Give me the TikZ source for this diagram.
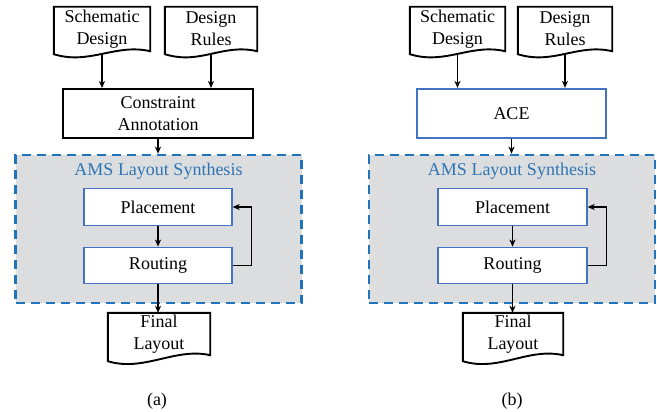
\documentclass[tikz,border=0pt]{standalone}
\usepackage{fontspec}
\setmainfont{Liberation Serif}
\usetikzlibrary{calc,arrows.meta}

\definecolor{synthfill}{HTML}{DCDDDF}
\definecolor{synthedge}{HTML}{1F74BC}
\definecolor{synthtext}{HTML}{2E75B6}
\definecolor{stageedge}{HTML}{4472C4}

\tikzset{
  every node/.style={font=\fontsize{18}{22}\selectfont, inner sep=0pt},
  docbox/.style={rectangle, align=center, minimum height=44pt},
  docline/.style={draw=black, line width=1.9pt, line join=miter},
  plainbox/.style={rectangle, draw=black, line width=1.9pt, align=center,
                   minimum width=190pt, minimum height=49pt},
  acebox/.style={rectangle, draw=stageedge, line width=2.2pt, fill=white,
                 minimum width=189pt, minimum height=49pt},
  synthbox/.style={rectangle, draw=synthedge, fill=synthfill, line width=2.6pt,
                   dash pattern=on 9pt off 6pt,
                   minimum width=286pt, minimum height=148pt},
  synthtitle/.style={text=synthtext},
  stagebox/.style={rectangle, draw=stageedge, fill=white, line width=1.3pt,
                   minimum width=148pt, minimum height=36.5pt},
  arr/.style={draw=black, line width=1.3pt,
              -{Stealth[length=7pt,width=6pt,inset=2pt]}},
  fback/.style={draw=black, line width=1.3pt,
              -{Stealth[length=7pt,width=6pt,inset=2pt]}},
}

% document symbol: outline of node #1 with a wavy lower edge,
% the left end of the wave dropped by #2
\newcommand{\docoutline}[2]{%
  \draw[docline] ($(#1.south west)+(0,#2)$) -- (#1.north west) -- (#1.north east)
    -- (#1.south east)
    .. controls ($(#1.south east)+(-35,-8)$) and ($(#1.south west)+(36,#2+11)$)
    .. ($(#1.south west)+(0,#2)$) -- cycle;}

\begin{document}
\begin{tikzpicture}[x=1pt,y=-1pt]
  \useasboundingbox (0,0) rectangle (657,412);

  % ---------------- (a) ----------------
  \node[docbox, minimum width=96pt] (sdA) at (102,29) {Schematic\\Design};
  \docoutline{sdA}{3}
  \node[docbox, minimum width=92pt] (drA) at (211,29) {Design\\Rules};
  \docoutline{drA}{3}

  \node[plainbox] (ca) at (158,113.5) {Constraint\\Annotation};

  \node[synthbox] (synA) at (158.5,229) {};
  \node[synthtitle] (titA) at (158.5,171) {AMS Layout Synthesis};
  \node[stagebox] (plA) at (158,207) {Placement};
  \node[stagebox] (roA) at (158,265.5) {Routing};

  \node[docbox, minimum width=102pt, minimum height=42pt] (flA) at (159,334) {Final\\Layout};
  \docoutline{flA}{6}

  \draw[arr] ([yshift=-2.5pt]sdA.south) -- (sdA.south |- ca.north);
  \draw[arr] ([yshift=-2.5pt]drA.south) -- (drA.south |- ca.north);
  \draw[arr] (ca.south) -- (ca.south |- synA.north);
  \draw[arr] (plA) -- (roA);
  \draw[fback] (roA.east) -- ++(19,0) |- (plA.east);
  \draw[arr] (roA.south) -- (roA.south |- flA.north);

  \node (capA) at (157,401) {(a)};

  % ---------------- (b) ----------------
  \node[docbox, minimum width=95pt] (sdB) at (457.5,29) {Schematic\\Design};
  \docoutline{sdB}{3}
  \node[docbox, minimum width=94pt] (drB) at (565,29) {Design\\Rules};
  \docoutline{drB}{3}

  \node[acebox] (ace) at (511.5,113.5) {ACE};

  \node[synthbox] (synB) at (512,229) {};
  \node[synthtitle] (titB) at (512,171) {AMS Layout Synthesis};
  \node[stagebox, minimum width=149pt] (plB) at (512.5,207) {Placement};
  \node[stagebox, minimum width=149pt] (roB) at (512.5,265.5) {Routing};

  \node[docbox, minimum width=100pt, minimum height=42pt] (flB) at (513,334) {Final\\Layout};
  \docoutline{flB}{6}

  \draw[arr] ([yshift=-2.5pt]sdB.south) -- (sdB.south |- ace.north);
  \draw[arr] ([yshift=-2.5pt]drB.south) -- (drB.south |- ace.north);
  \draw[arr] (ace.south) -- (ace.south |- synB.north);
  \draw[arr] (plB) -- (roB);
  \draw[fback] (roB.east) -- ++(19,0) |- (plB.east);
  \draw[arr] (roB.south) -- (roB.south |- flB.north);

  \node (capB) at (512,401) {(b)};
\end{tikzpicture}
\end{document}
